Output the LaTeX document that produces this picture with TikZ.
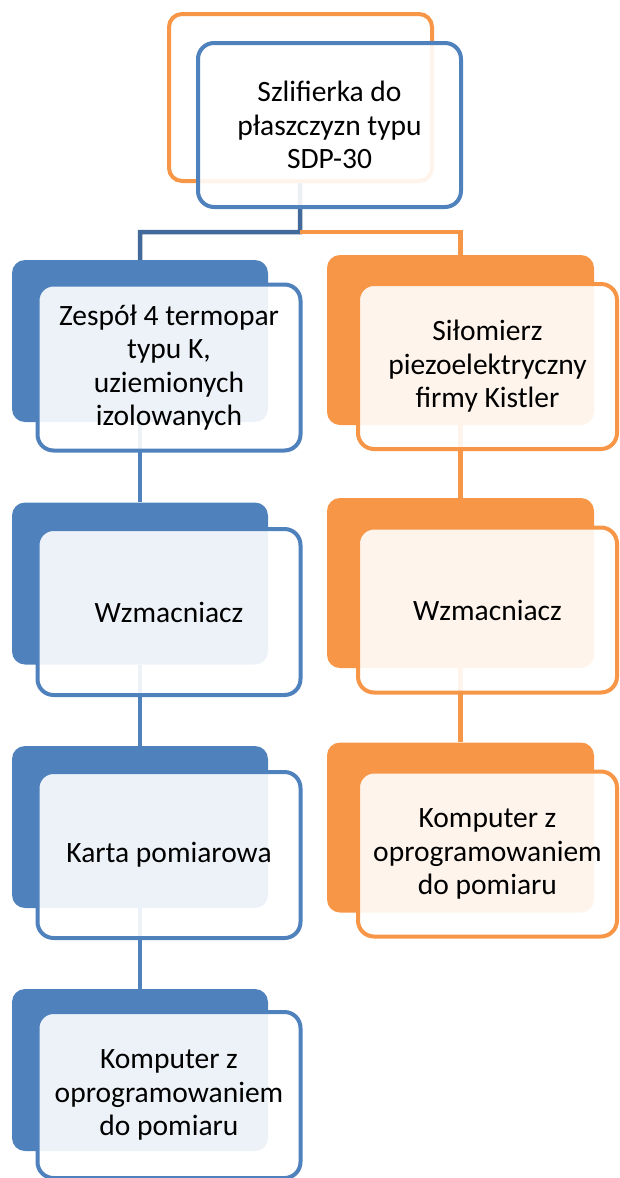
\documentclass[tikz,border=0pt]{standalone}
\usepackage{fontspec}
\setmainfont{Carlito}
\usetikzlibrary{backgrounds}
\definecolor{accblue}{HTML}{4F81BD}
\definecolor{accorange}{HTML}{F79646}
\definecolor{darkblue}{HTML}{41699A}

\begin{document}
\begin{tikzpicture}[x=1pt,y=-1pt,
    backbox/.style={rounded corners=13pt, inner sep=0pt, minimum width=256pt, minimum height=162pt},
    frontbox/.style={draw, line width=4pt, rounded corners=16pt, fill=white, fill opacity=.9, text opacity=1,
                     text=black, align=center, inner sep=0pt, minimum width=263pt, minimum height=166pt,
                     font=\fontsize{29.5}{33.5}\selectfont},
    link/.style={line width=4.5pt}]
            \useasboundingbox (0,0) rectangle (620,1178);

            \node[backbox, draw=accorange, line width=4pt, fill=white, minimum width=263pt, minimum height=167pt] (topb) at (300.5,97.5) {};
            \node[frontbox, draw=accblue, minimum height=164pt] (topf) at (329.5,125) {Szlifierka do\\płaszczyzn typu\\SDP-30};

            \node[backbox, fill=accblue] (l1b) at (140,341) {};
            \node[frontbox, draw=accblue] (l1f) at (169,367.5) {Zespół 4 termopar\\typu K,\\uziemionych\\izolowanych};
            \node[backbox, fill=accblue] (l2b) at (140,583.5) {};
            \node[frontbox, draw=accblue] (l2f) at (169,612) {Wzmacniacz};
            \node[backbox, fill=accblue] (l3b) at (140,827) {};
            \node[frontbox, draw=accblue] (l3f) at (169,855) {Karta pomiarowa};
            \node[backbox, fill=accblue] (l4b) at (140,1070) {};
            \node[frontbox, draw=accblue] (l4f) at (169,1095) {Komputer z\\oprogramowaniem\\do pomiaru};

            \node[backbox, fill=accorange, minimum width=267pt, minimum height=170pt] (r1b) at (460.5,340) {};
            \node[frontbox, draw=accorange, minimum width=259pt, minimum height=165pt] (r1f) at (487.5,366.5) {Siłomierz\\piezoelektryczny\\firmy Kistler};
            \node[backbox, fill=accorange, minimum width=267pt, minimum height=170pt] (r2b) at (460.5,583) {};
            \node[frontbox, draw=accorange, minimum width=259pt, minimum height=165pt] (r2f) at (487.5,610) {Wzmacniacz};
            \node[backbox, fill=accorange, minimum width=267pt, minimum height=170pt] (r3b) at (460.5,827.5) {};
            \node[frontbox, draw=accorange, minimum width=259pt, minimum height=165pt] (r3f) at (487.5,854) {Komputer z\\oprogramowaniem\\do pomiaru};

            \begin{scope}[on background layer]
            \coordinate (split) at (300,232);
            \draw[link, darkblue] (topb) -- (split) -| (l1b);
            \draw[link, accorange] (split) -| (r1b);
            \draw[link, accblue] (l1b) -- (l2b);
            \draw[link, accblue] (l2b) -- (l3b);
            \draw[link, accblue] (l3b) -- (l4b);
            \draw[link, accorange] (r1b) -- (r2b);
            \draw[link, accorange] (r2b) -- (r3b);
            \end{scope}
            \end{tikzpicture}
\end{document}
